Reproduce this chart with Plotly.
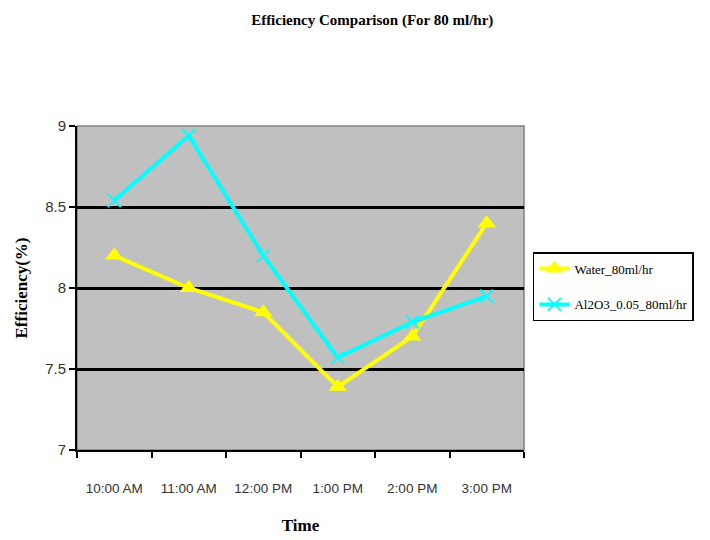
import plotly.graph_objects as go

times = ["10:00 AM", "11:00 AM", "12:00 PM", "1:00 PM", "2:00 PM", "3:00 PM"]
water = [8.2, 8.0, 7.85, 7.39, 7.7, 8.4]
al2o3 = [8.54, 8.94, 8.2, 7.57, 7.79, 7.95]

fig = go.Figure()
fig.add_trace(go.Scatter(
    x=times, y=water, name="Water_80ml/hr", mode="lines+markers", legendgroup="a",
    line=dict(color="#FFFF00", width=4),
    marker=dict(symbol="triangle-up", size=16, color="#FFFF00"),
))
fig.add_trace(go.Scatter(
    x=times, y=al2o3, name="Al2O3_0.05_80ml/hr", mode="lines+markers", legendgroup="b",
    line=dict(color="#00FFFF", width=4),
    marker=dict(symbol="x-thin", size=13, color="#00FFFF",
                line=dict(color="#00FFFF", width=2)),
))

serif = "Liberation Serif, Times New Roman, serif"
sans = "Liberation Sans, Arial, sans-serif"

fig.update_layout(
    width=710, height=540,
    margin=dict(l=64, r=194, t=118, b=98),
    paper_bgcolor="white", plot_bgcolor="#C0C0C0",
    title=dict(text="<b>Efficiency Comparison (For 80 ml/hr)</b>",
               x=0.513, xanchor="center", xref="container", y=0.978, yanchor="middle",
               font=dict(family=serif, size=15, color="black")),
    showlegend=True,
    legend=dict(x=1.02, y=0.611, xanchor="left", yanchor="top",
                bordercolor="black", borderwidth=1.5, bgcolor="white",
                font=dict(family=serif, size=13, color="black"),
                tracegroupgap=16, itemwidth=30),
    shapes=[dict(type="rect", xref="x domain", yref="y domain", x0=0, x1=1, y0=0, y1=1,
                 line=dict(color="#808080", width=1.5), layer="below")],
)
fig.update_xaxes(
    type="category", tickson="boundaries", ticks="outside", ticklen=6, tickwidth=2,
    tickcolor="black", showline=True, linecolor="black", linewidth=2,
    showgrid=False, range=[-0.5, 5.5], ticklabelstandoff=25,
    tickfont=dict(family=sans, size=13.5, color="#333"),
    title=dict(text="<b>Time</b>", font=dict(family=serif, size=17, color="black"), standoff=24),
)
fig.update_yaxes(
    range=[7, 9], dtick=0.5, ticks="outside", ticklen=6, tickwidth=2, tickcolor="black",
    showline=True, linecolor="black", linewidth=2,
    showgrid=True, gridcolor="black", gridwidth=2.5, zeroline=False,
    tickfont=dict(family=sans, size=15, color="#333"),
    title=dict(text="<b>Efficiency(%)</b>", font=dict(family=serif, size=17, color="black"), standoff=13),
)

fig.write_html("out.html")
